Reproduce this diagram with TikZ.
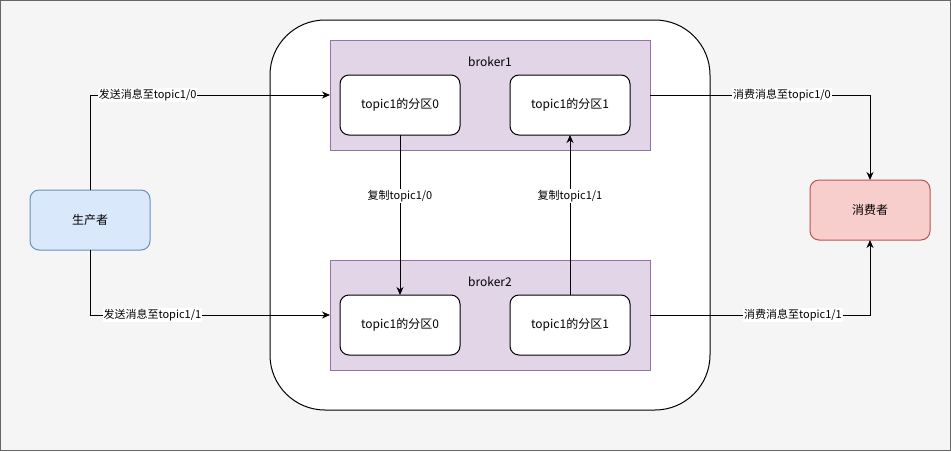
\documentclass[tikz,border=0pt]{standalone}
\usepackage{fontspec}
\setmainfont{Noto Sans CJK SC}
\usetikzlibrary{arrows.meta, positioning}

\definecolor{pagebg}{HTML}{F5F5F5}
\definecolor{pageframe}{HTML}{666666}
\definecolor{brokerfill}{HTML}{E1D5E7}
\definecolor{brokerline}{HTML}{9673A6}
\definecolor{prodfill}{HTML}{DAE8FC}
\definecolor{prodline}{HTML}{6C8EBF}
\definecolor{consfill}{HTML}{F8CECC}
\definecolor{consline}{HTML}{B85450}

\begin{document}
\begin{tikzpicture}[x=1pt, y=-1pt,
  box/.style={draw, line width=1pt, rounded corners=9pt, minimum width=120pt,
    minimum height=60pt, inner sep=0pt, outer sep=0pt, font=\fontsize{12}{14}\selectfont},
  part/.style={box, fill=white},
  broker/.style={draw=brokerline, fill=brokerfill, line width=0.8pt, minimum width=320pt,
    minimum height=110pt, inner sep=0pt, outer sep=0pt},
  conn/.style={line width=1pt, -{Stealth[length=8pt, width=7pt, inset=2.5pt]}},
  elabel/.style={fill=white, inner sep=1pt, font=\fontsize{11}{13}\selectfont}]
\useasboundingbox (0,0) rectangle (951,451);
\draw[fill=pagebg, draw=pageframe, line width=1pt] (0.5,0.5) rectangle (950.5,450.5);

% cluster
\draw[fill=white, line width=1pt, rounded corners=55pt] (270,20) rectangle (710,410);

% brokers
\node[broker] (b1) at (490,95) {};
\node[font=\fontsize{12}{14}\selectfont] (b1lbl) at (490,62) {broker1};
\node[broker] (b2) at (490,315) {};
\node[font=\fontsize{12}{14}\selectfont] (b2lbl) at (490,282) {broker2};

% partitions
\node[part] (b1p0) at (400,105) {topic1的分区0};
\node[part] (b1p1) at (570,105) {topic1的分区1};
\node[part] (b2p0) at (400,325) {topic1的分区0};
\node[part] (b2p1) at (570,325) {topic1的分区1};

% clients
\node[box, draw=prodline, fill=prodfill] (prod) at (90,220) {生产者};
\node[box, draw=consline, fill=consfill] (cons) at (870,210) {消费者};

% edges
\draw[conn] (prod.north) |- (b1.west) node[elabel, pos=0.62] (l1) {发送消息至topic1/0};
\draw[conn] (prod.south) |- (b2.west) node[elabel, pos=0.63] (l2) {发送消息至topic1/1};
\draw[conn] (b1.east) -| (cons.north) node[elabel, pos=0.30] (l3) {消费消息至topic1/0};
\draw[conn] (b2.east) -| (cons.south) node[elabel, pos=0.325] (l4) {消费消息至topic1/1};
\draw[conn] (b1p0.south) -- (b2p0.north) node[elabel, pos=0.38] (l5) {复制topic1/0};
\draw[conn] (b2p1.north) -- (b1p1.south) node[elabel, pos=0.62] (l6) {复制topic1/1};
\end{tikzpicture}
\end{document}
